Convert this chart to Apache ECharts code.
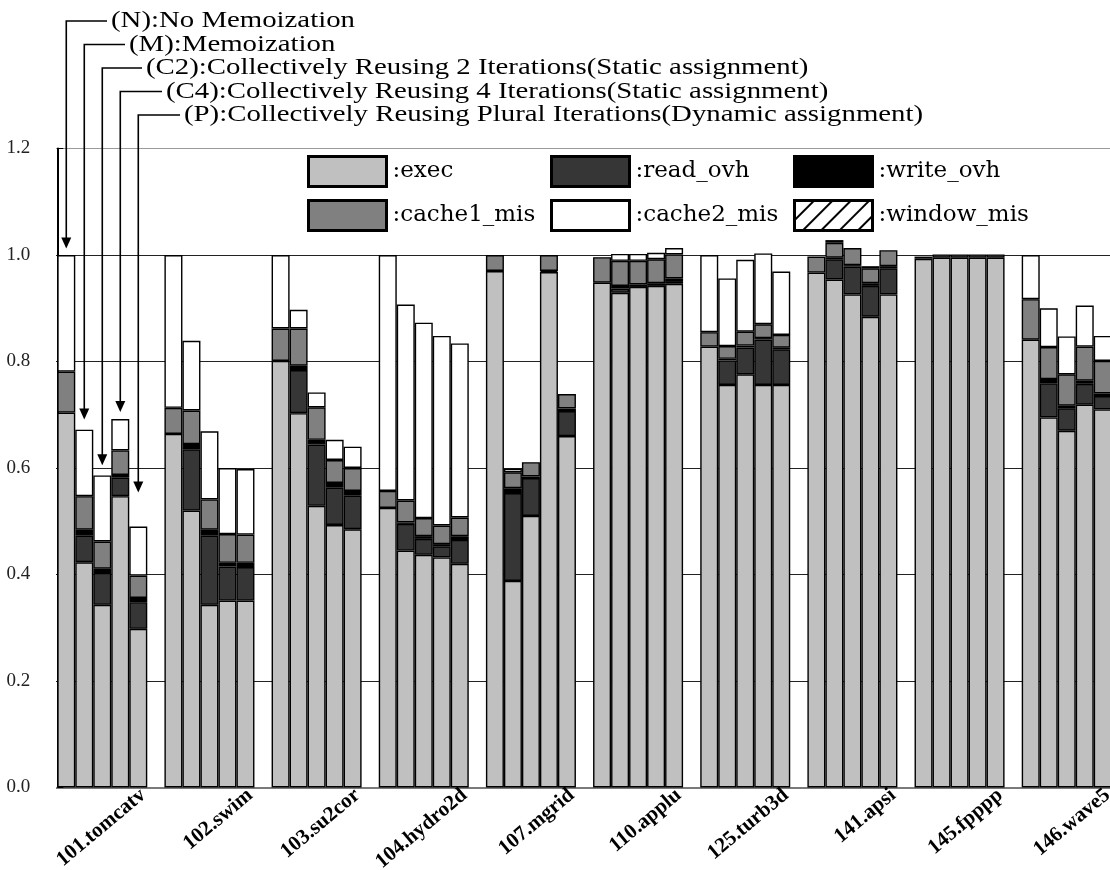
<!DOCTYPE html>
<html><head><meta charset="utf-8">
<script src="https://cdn.jsdelivr.net/npm/echarts@6/dist/echarts.min.js"></script>
<style>html,body{margin:0;padding:0;background:#fff}#c{width:1110px;height:870px}</style>
</head><body><div id="c"></div>
<script>
const benchmarks = ['101.tomcatv','102.swim','103.su2cor','104.hydro2d','107.mgrid','110.applu','125.turb3d','141.apsi','145.fpppp','146.wave5'];
const configs = ['N','M','C2','C4','P'];
const configLabels = [
  '(N):No Memoization',
  '(M):Memoization',
  '(C2):Collectively Reusing 2 Iterations(Static assignment)',
  '(C4):Collectively Reusing 4 Iterations(Static assignment)',
  '(P):Collectively Reusing Plural Iterations(Dynamic assignment)'
];
const yTicks = [0, 0.2, 0.4, 0.6, 0.8, 1.0, 1.2];
// rows = benchmarks, columns = N, M, C2, C4, P
const exec = [
  [0.704, 0.423, 0.343, 0.547, 0.298],
  [0.664, 0.520, 0.343, 0.351, 0.351],
  [0.801, 0.703, 0.529, 0.493, 0.485],
  [0.525, 0.445, 0.437, 0.432, 0.420],
  [0.970, 0.388, 0.510, 0.968, 0.660],
  [0.948, 0.929, 0.940, 0.942, 0.946],
  [0.828, 0.756, 0.776, 0.756, 0.756],
  [0.967, 0.954, 0.926, 0.884, 0.926],
  [0.993, 0.995, 0.995, 0.995, 0.995],
  [0.841, 0.695, 0.670, 0.719, 0.710]
];
const read_ovh = [
  [0, 0.050, 0.060, 0.035, 0.050],
  [0, 0.115, 0.130, 0.064, 0.063],
  [0, 0.081, 0.115, 0.070, 0.063],
  [0, 0.050, 0.030, 0.021, 0.045],
  [0, 0.165, 0.071, 0.002, 0.047],
  [0, 0.008, 0, 0, 0.005],
  [0, 0.046, 0.050, 0.085, 0.067],
  [0, 0.038, 0.052, 0.058, 0.049],
  [0, 0, 0, 0, 0],
  [0, 0.064, 0.042, 0.039, 0.025]
];
const write_ovh = [
  [0, 0.011, 0.008, 0.005, 0.008],
  [0, 0.010, 0.011, 0.007, 0.008],
  [0, 0.008, 0.009, 0.009, 0.009],
  [0, 0.003, 0.005, 0.004, 0.007],
  [0, 0.009, 0.003, 0, 0.005],
  [0, 0.005, 0.005, 0.005, 0.005],
  [0, 0.003, 0.004, 0.003, 0.003],
  [0, 0.003, 0.003, 0.005, 0.004],
  [0, 0, 0, 0, 0],
  [0, 0.008, 0.005, 0.006, 0.005]
];
const cache1_mis = [
  [0.077, 0.063, 0.051, 0.046, 0.042],
  [0.049, 0.063, 0.057, 0.054, 0.053],
  [0.061, 0.070, 0.061, 0.043, 0.043],
  [0.032, 0.041, 0.034, 0.035, 0.035],
  [0.030, 0.030, 0.027, 0.030, 0.027],
  [0.048, 0.047, 0.044, 0.045, 0.045],
  [0.027, 0.024, 0.026, 0.026, 0.024],
  [0.030, 0.028, 0.032, 0.028, 0.030],
  [0.004, 0.006, 0.006, 0.006, 0.006],
  [0.076, 0.060, 0.059, 0.064, 0.061]
];
const cache2_mis = [
  [0.219, 0.125, 0.124, 0.059, 0.092],
  [0.287, 0.131, 0.128, 0.124, 0.123],
  [0.138, 0.035, 0.028, 0.038, 0.040],
  [0.443, 0.368, 0.367, 0.356, 0.327],
  [0, 0.007, 0, 0, 0],
  [0, 0.013, 0.013, 0.012, 0.012],
  [0.145, 0.127, 0.135, 0.133, 0.119],
  [0, 0.005, 0, 0.004, 0],
  [0, 0, 0, 0, 0],
  [0.083, 0.073, 0.071, 0.077, 0.047]
];
const window_mis = [
  [0,0,0,0,0],[0,0,0,0,0],[0,0,0,0,0],[0,0,0,0,0],[0,0,0,0,0],
  [0,0,0,0,0],[0,0,0,0,0],[0,0,0,0,0],[0,0,0,0,0],[0,0,0,0,0]
];
// arrow tip heights (value units) for the configuration annotations on the first group
const arrowTipValues = [1.012, 0.691, 0.605, 0.705, 0.554];

const SERIF = "'Liberation Serif','Times New Roman',serif";
const hatch = {symbol:'rect', symbolSize:1, dashArrayX:[1,0], dashArrayY:[2,11], rotation:-Math.PI/4, color:'#000'};
const metrics = [
  {name:'exec', data:exec, color:'#c0c0c0'},
  {name:'read_ovh', data:read_ovh, color:'#363636'},
  {name:'write_ovh', data:write_ovh, color:'#000000'},
  {name:'cache1_mis', data:cache1_mis, color:'#808080'},
  {name:'cache2_mis', data:cache2_mis, color:'#ffffff'},
  {name:'window_mis', data:window_mis, color:'#ffffff', decal:hatch}
];

const series = [];
configs.forEach((cfg, j) => {
  metrics.forEach(m => {
    const st = {color:m.color, borderColor:'#000', borderWidth:1.4};
    if (m.decal) st.decal = m.decal;
    series.push({
      type:'bar', name:m.name, stack:cfg, xAxisIndex:1, yAxisIndex:0,
      barCategoryGap:'16%', barGap:'0%',
      data: m.data.map(r => r[j] > 0 ? r[j] : '-'),
      itemStyle: st, emphasis:{disabled:true}, silent:true
    });
  });
});

const G = {left:48.7, top:148.5, width:1071.6, height:639, outerBoundsMode:'none', containLabel:false};
const chart = echarts.init(document.getElementById('c'), null, {renderer:'canvas'});

const legendBase = {
  orient:'vertical', top:155, padding:0, itemGap:11, itemWidth:78, itemHeight:30,
  icon:'rect', selectedMode:false,
  itemStyle:{borderWidth:3, borderColor:'#000'},
  formatter: n => ':' + n,
  textStyle:{fontFamily:"'DejaVu Serif',serif", fontSize:23, color:'#000', padding:[0,0,0,1]}
};

// label axis: a value axis whose ticks (every 0.04, counted from min) put the
// benchmark name near the right end of each group
const LABEL_MIN = -0.88, LABEL_STEP = 0.04;
function benchLabel(v) {
  const r = Math.round(v);
  return (Math.abs(v - r) < 1e-4 && r >= 0 && r < benchmarks.length) ? benchmarks[r] : '';
}

chart.setOption({
  animation:false,
  backgroundColor:'#fff',
  grid: G,
  legend: [
    Object.assign({}, legendBase, {left:307, data:['exec','cache1_mis']}),
    Object.assign({}, legendBase, {left:550, data:['read_ovh','cache2_mis']}),
    Object.assign({}, legendBase, {left:793, data:['write_ovh','window_mis']})
  ],
  xAxis: [
    {type:'value', min:LABEL_MIN, max:LABEL_MIN + benchmarks.length, interval:LABEL_STEP, position:'bottom',
     axisLine:{show:true, onZero:false, lineStyle:{color:'#7a7a7a', width:2}},
     axisTick:{show:false}, splitLine:{show:false},
     axisLabel:{rotate:40, margin:5, fontFamily:SERIF, fontWeight:'bold', fontSize:21, color:'#000',
       hideOverlap:false, formatter: benchLabel}},
    {type:'category', data:benchmarks, position:'top',
     axisLine:{show:false}, axisTick:{show:false}, axisLabel:{show:false}, splitLine:{show:false}}
  ],
  yAxis: {
    type:'value', min:yTicks[0], max:yTicks[yTicks.length-1], interval:0.2, offset:-8.6,
    axisLine:{show:true, onZero:false, lineStyle:{color:'#000', width:2}},
    axisTick:{show:true, inside:true, length:6, lineStyle:{color:'#000'}},
    axisLabel:{margin:27, fontFamily:SERIF, fontSize:19, color:'#222', formatter: v => v.toFixed(1)},
    splitLine:{show:true, lineStyle:{color:['#777','#222','#222','#222','#222','#222','#9a9a9a'], width:1.2}}
  },
  series: series
});

// ---- configuration annotations (leader lines + arrows) ----
const annFont = 24;
const sx = 1.2;
const band = G.width / benchmarks.length;
const barW = band * 0.84 / configs.length;
const c0 = chart.convertToPixel({xAxisIndex:1}, benchmarks[0]);
const rowY = [21, 44.5, 68, 91.5, 115];
const textLeft = [111, 129, 146, 166, 184];
const graphics = [{type:'rect', shape:{x:38, y:140, width:18, height:650}, style:{fill:'#fff'}, z:1, silent:true}];
configs.forEach((cfg, j) => {
  const x = c0 + (j - 2) * barW;
  const tipY = chart.convertToPixel({yAxisIndex:0}, arrowTipValues[j]);
  graphics.push({type:'polyline', shape:{points:[[textLeft[j]-4, rowY[j]], [x, rowY[j]], [x, tipY-9]]},
    style:{stroke:'#000', lineWidth:1.6, fill:null}, z:10, silent:true});
  graphics.push({type:'polygon', shape:{points:[[x-5, tipY-11], [x+5, tipY-11], [x, tipY]]},
    style:{fill:'#000'}, z:10, silent:true});
  graphics.push({type:'text', x:textLeft[j], y:rowY[j], scaleX:sx,
    style:{text:configLabels[j], fontFamily:SERIF, fontSize:annFont, fill:'#000', verticalAlign:'middle', align:'left'},
    z:10, silent:true});
});
chart.setOption({graphic: graphics});
</script></body></html>
